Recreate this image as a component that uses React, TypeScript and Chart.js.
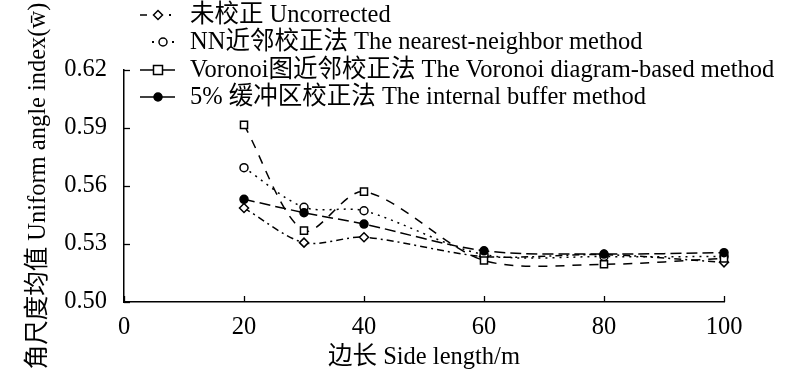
import React, { useEffect, useRef } from "react";
import { Chart, registerables } from "chart.js";

Chart.register(...registerables);

const sideLengths = [20, 30, 40, 60, 80, 100];
const uncorrected = [0.5486, 0.5307, 0.5335, 0.5235, 0.5245, 0.5205];
const nearestNeighbor = [0.5695, 0.549, 0.5472, 0.5245, 0.5235, 0.5235];
const voronoi = [0.5916, 0.5369, 0.5571, 0.5215, 0.5195, 0.5225];
const internalBuffer = [0.5531, 0.5462, 0.5403, 0.5265, 0.5248, 0.5255];

const seriesLabels = [
  "未校正 Uncorrected",
  "NN近邻校正法 The nearest-neighbor method",
  "Voronoi图近邻校正法 The Voronoi diagram-based method",
  "5% 缓冲区校正法 The internal buffer method",
];
const xTitle = "边长 Side length/m";
const yTitle = "角尺度均值 Uniform angle index(w\u0304)";

const FONT = "'Liberation Serif', 'Noto Sans CJK SC', serif";
const FS = 24.5;

const toPoints = (ys: number[]) => sideLengths.map((x, i) => ({ x, y: ys[i] }));

const styles = [
  { dash: [7, 4, 2, 4], point: "rectRot", radius: 4.5, fill: "#fff" },
  { dash: [2, 5], point: "circle", radius: 4, fill: "#fff" },
  { dash: [9, 8], point: "rect", radius: 5, fill: "#fff" },
  { dash: [11, 5], point: "circle", radius: 4, fill: "#000" },
];

function drawMarker(ctx: CanvasRenderingContext2D, type: string, x: number, y: number, r: number, fill: string) {
  ctx.save();
  ctx.setLineDash([]);
  ctx.fillStyle = fill;
  ctx.strokeStyle = "#000";
  ctx.lineWidth = 1.5;
  ctx.beginPath();
  if (type === "circle") {
    ctx.arc(x, y, r, 0, Math.PI * 2);
  } else if (type === "rect") {
    ctx.rect(x - r, y - r, 2 * r, 2 * r);
  } else {
    ctx.moveTo(x, y - r);
    ctx.lineTo(x + r, y);
    ctx.lineTo(x, y + r);
    ctx.lineTo(x - r, y);
    ctx.closePath();
  }
  ctx.fill();
  ctx.stroke();
  ctx.restore();
}

const decorPlugin = {
  id: "decor",
  afterDraw(chart: any) {
    const ctx: CanvasRenderingContext2D = chart.ctx;
    const area = chart.chartArea;
    const xs = chart.scales.x;
    const ys = chart.scales.y;
    ctx.save();
    ctx.strokeStyle = "#000";
    ctx.lineWidth = 1.3;
    ctx.setLineDash([]);
    xs.ticks.forEach((t: any) => {
      const px = Math.round(xs.getPixelForValue(t.value)) + 0.5;
      ctx.beginPath();
      ctx.moveTo(px, area.bottom);
      ctx.lineTo(px, area.bottom - 6);
      ctx.stroke();
    });
    ys.ticks.forEach((t: any) => {
      const py = Math.round(ys.getPixelForValue(t.value)) + 0.5;
      ctx.beginPath();
      ctx.moveTo(area.left, py);
      ctx.lineTo(area.left + 6, py);
      ctx.stroke();
    });

    // legend
    const rowY = [15, 42, 70, 97];
    ctx.font = `${FS}px ${FONT}`;
    ctx.textBaseline = "middle";
    ctx.fillStyle = "#000";
    rowY.forEach((y, i) => {
      const s = styles[i];
      ctx.save();
      ctx.lineWidth = 1.5;
      ctx.strokeStyle = "#000";
      if (i === 0) {
        ctx.beginPath(); ctx.moveTo(140, y); ctx.lineTo(147, y); ctx.stroke();
        ctx.fillRect(169, y - 1, 2, 2);
      } else if (i === 1) {
        ctx.fillRect(152, y - 1, 2, 2);
        ctx.fillRect(172, y - 1, 2, 2);
      } else {
        ctx.beginPath(); ctx.moveTo(140, y); ctx.lineTo(175, y); ctx.stroke();
      }
      ctx.restore();
      const mx = i === 1 ? 163 : 158;
      drawMarker(ctx, s.point, mx, y, i === 2 ? 4.5 : s.radius, s.fill);
      ctx.fillText(seriesLabels[i], 190, y + 1);
    });
    ctx.restore();
  },
};

export default function App() {
  const canvasRef = useRef<HTMLCanvasElement | null>(null);

  useEffect(() => {
    if (!canvasRef.current) return;
    const seriesData = [uncorrected, nearestNeighbor, voronoi, internalBuffer];
    const chart = new Chart(canvasRef.current, {
      type: "line",
      data: {
        datasets: seriesData.map((d, i) => ({
          label: seriesLabels[i],
          data: toPoints(d),
          borderColor: "#000",
          borderWidth: 1.5,
          borderDash: styles[i].dash,
          tension: 0.3,
          pointStyle: styles[i].point as any,
          pointRadius: styles[i].radius,
          pointBackgroundColor: styles[i].fill,
          pointBorderColor: "#000",
          pointBorderWidth: 1.5,
          fill: false,
          clip: false as any,
          order: 3 - i,
        })),
      },
      options: {
        responsive: false,
        animation: false,
        layout: { padding: { top: 70, right: 76, left: 0, bottom: 0 } },
        plugins: {
          legend: { display: false },
          tooltip: { enabled: false },
        },
        scales: {
          x: {
            type: "linear",
            min: 0,
            max: 100,
            ticks: {
              stepSize: 20,
              color: "#000",
              padding: 11,
              maxRotation: 0,
              font: { family: FONT, size: FS },
            },
            grid: { display: false, drawTicks: false },
            border: { display: true, color: "#000", width: 1.5 },
            title: {
              display: true,
              text: xTitle,
              color: "#000",
              font: { family: FONT, size: FS },
              padding: { top: 0, bottom: 0 },
            },
            afterFit(scale: any) {
              scale.height = 70;
            },
          },
          y: {
            type: "linear",
            min: 0.5,
            max: 0.62,
            ticks: {
              stepSize: 0.03,
              color: "#000",
              padding: 17,
              font: { family: FONT, size: FS },
              callback: (v: any) => Number(v).toFixed(2),
            },
            grid: { display: false, drawTicks: false },
            border: { display: true, color: "#000", width: 1.5 },
            title: {
              display: true,
              text: yTitle,
              color: "#000",
              font: { family: FONT, size: FS },
              padding: { top: 24, bottom: 0 },
            },
            afterFit(scale: any) {
              scale.width = 124;
            },
          },
        },
      },
      plugins: [decorPlugin],
    });
    return () => chart.destroy();
  }, []);

  return (
    <div style={{ position: "fixed", left: 0, top: 0, width: 800, height: 372, background: "#fff" }}>
      <canvas ref={canvasRef} width={800} height={372} style={{ display: "block" }} />
    </div>
  );
}
